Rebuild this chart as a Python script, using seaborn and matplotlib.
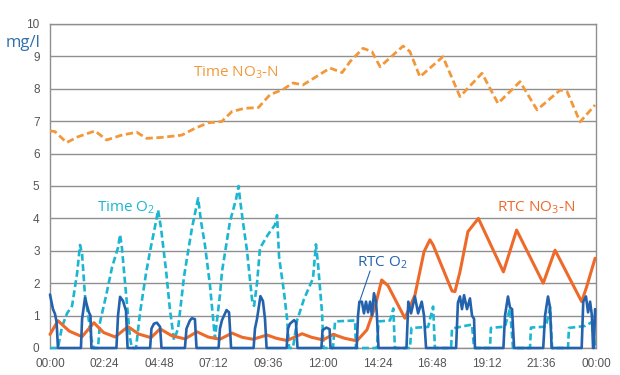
import matplotlib
matplotlib.use("Agg")
import numpy as np
import pandas as pd
import seaborn as sns
import matplotlib.pyplot as plt

# ---------------- data (time in hours, values in mg/l) ----------------
time_no3_t = [0.00, 0.22, 0.73, 1.23, 1.98, 2.49, 3.15, 3.81, 4.25, 4.91, 5.79, 6.37, 6.95, 7.55,
              8.00, 8.57, 9.16, 9.67, 10.24, 10.68, 11.12, 12.31, 12.84, 13.19, 13.76, 14.15,
              14.51, 15.52, 15.82, 16.26, 17.27, 18.02, 18.99, 19.69, 20.66, 21.41, 22.42, 22.73,
              23.30, 23.96]
time_no3_v = [6.70, 6.68, 6.34, 6.52, 6.70, 6.42, 6.57, 6.66, 6.47, 6.50, 6.57, 6.78, 6.95, 6.99,
              7.30, 7.40, 7.42, 7.82, 7.98, 8.18, 8.12, 8.64, 8.50, 8.84, 9.25, 9.15,
              8.68, 9.32, 9.15, 8.37, 8.99, 7.76, 8.48, 7.55, 8.22, 7.35, 7.96, 7.91,
              6.98, 7.50]

rtc_no3_t = [0.00, 0.35, 0.85, 1.41, 1.93, 2.35, 2.86, 3.43, 3.90, 4.44, 4.84, 5.35, 5.93, 6.46,
             6.95, 7.47, 8.00, 8.45, 8.92, 9.54, 9.95, 10.42, 11.08, 11.50, 12.00, 12.45, 12.95,
             13.49, 13.93, 14.29, 14.58, 14.86, 15.60, 16.04, 16.44, 16.70, 16.84, 17.67, 17.80,
             18.02, 18.37, 18.83, 19.93, 20.51, 21.68, 22.20, 23.37, 23.59, 23.96]
rtc_no3_v = [0.42, 0.84, 0.52, 0.35, 0.78, 0.48, 0.34, 0.66, 0.43, 0.32, 0.59, 0.38, 0.28, 0.50,
             0.34, 0.27, 0.46, 0.33, 0.27, 0.40, 0.30, 0.23, 0.44, 0.33, 0.25, 0.42, 0.30,
             0.22, 0.56, 1.28, 2.10, 1.92, 0.92, 1.63, 2.97, 3.34, 3.18, 1.76, 1.74,
             2.35, 3.59, 4.00, 2.35, 3.64, 2.00, 3.02, 1.43, 1.89, 2.77]

time_o2_t = [0.00, 0.35, 0.53, 0.75, 0.97, 1.19, 1.32, 1.41, 1.54, 1.67, 1.82, 1.93, 2.11, 2.20,
             2.46, 2.73, 2.99, 3.08, 3.16, 3.30, 3.52, 3.60, 3.78, 3.96, 4.22, 4.40, 4.66, 4.75,
             4.88, 5.10, 5.27, 5.45, 5.63, 5.89, 6.07, 6.24, 6.51, 6.64, 6.81, 7.03, 7.25, 7.47,
             7.56, 7.91, 8.18, 8.29, 8.35, 8.48, 8.66, 8.88, 8.97, 9.10, 9.23, 9.58, 9.89, 9.98,
             10.07, 10.29, 10.42, 10.51, 10.68, 10.86, 11.16, 11.56, 11.69, 11.78, 11.96, 12.02,
             12.44, 12.53, 13.41, 13.45, 14.37, 14.44, 14.95, 15.09, 15.16, 15.82, 15.89, 16.62,
             16.84, 16.92, 17.63, 17.67, 18.37, 18.55, 18.64, 19.34, 19.38, 20.00, 20.22, 20.35,
             21.10, 21.14, 21.80, 21.98, 22.07, 22.77, 22.81, 23.52, 23.82, 23.96, 24.00]
time_o2_v = [0.00, 0.00, 0.66, 1.07, 1.30, 2.30, 3.18, 2.90, 1.60, 1.05, 0.26, 0.00, 0.00, 0.80,
             1.60, 2.50, 3.10, 3.50, 3.10, 2.00, 0.30, 0.00, 0.00, 1.10, 2.30, 3.00, 3.90, 4.26,
             3.70, 2.40, 1.20, 0.25, 0.60, 2.20, 2.98, 3.70, 4.62, 3.90, 3.18, 1.95, 0.30, 1.64,
             2.36, 3.90, 4.60, 5.00, 4.60, 3.90, 3.00, 1.50, 1.30, 2.00, 3.08, 3.50, 3.80, 4.10,
             2.80, 1.70, 0.90, 0.00, 0.00, 0.85, 1.50, 2.15, 3.20, 2.60, 1.07, 0.00,
             0.00, 0.82, 0.85, 0.00, 0.00, 0.82, 0.85, 1.22, 0.00, 0.00, 0.62, 0.65,
             1.28, 0.00, 0.00, 0.60, 0.70, 0.72, 0.00, 0.00, 0.62, 0.66, 1.22, 0.00,
             0.00, 0.63, 0.66, 1.25, 0.00, 0.00, 0.62, 0.68, 0.80, 0.00, 0.00]

rtc_o2_t = [0.00, 0.13, 0.22, 0.29, 0.35, 1.36, 1.41, 1.54, 1.63, 1.71, 1.78, 1.82, 2.92, 2.99,
            3.08, 3.21, 3.34, 3.41, 4.40, 4.46, 4.57, 4.70, 4.84, 4.90, 5.93, 6.00, 6.15, 6.24,
            6.37, 6.44, 7.41, 7.47, 7.56, 7.76, 7.87, 7.96, 8.95, 9.01, 9.10, 9.25, 9.36, 9.45,
            9.52, 10.40, 10.46, 10.55, 10.73, 10.81, 10.88, 11.93, 11.98, 12.15, 12.29, 12.33,
            13.48, 13.54, 13.60, 13.71, 13.80, 13.89, 13.98, 14.07, 14.15, 14.24, 14.33, 14.37,
            14.44, 15.67, 15.75, 15.87, 16.04, 16.18, 16.34, 16.44, 16.53, 17.85, 17.93, 18.02,
            18.11, 18.20, 18.33, 18.46, 18.55, 18.64, 18.68, 19.93, 20.00, 20.13, 20.22, 20.31,
            20.40, 21.68, 21.76, 21.89, 21.98, 22.05, 23.37, 23.44, 23.56, 23.65, 23.74, 23.82,
            23.87, 23.91, 23.96]
rtc_o2_v = [1.65, 1.20, 1.05, 0.80, 0.00, 0.00, 0.90, 1.55, 1.30, 1.10, 1.00, 0.00, 0.00, 1.00,
            1.58, 1.45, 1.15, 0.00, 0.00, 0.60, 0.75, 0.78, 0.65, 0.00, 0.00, 0.60, 0.85, 0.92,
            0.89, 0.00, 0.00, 0.60, 0.86, 1.17, 1.10, 0.00, 0.00, 0.60, 0.90, 1.60, 1.45, 0.90,
            0.00, 0.00, 0.60, 0.75, 0.86, 0.80, 0.00, 0.00, 0.55, 0.63, 0.58, 0.00,
            0.00, 1.00, 1.43, 1.43, 1.07, 1.43, 1.10, 1.43, 1.00, 1.69, 1.43, 1.00,
            0.00, 0.00, 1.43, 1.07, 1.59, 1.07, 1.43, 1.00, 0.00, 0.00, 1.40, 1.59,
            1.20, 1.63, 1.20, 1.53, 1.00, 0.90, 0.00, 0.00, 1.00, 1.59, 1.25, 1.20,
            0.00, 0.00, 1.00, 1.59, 1.25, 0.00, 0.00, 1.43, 1.59, 1.10, 1.43, 1.00,
            0.00, 0.00, 1.20]

x_ticks = [0, 2.4, 4.8, 7.2, 9.6, 12.0, 14.4, 16.8, 19.2, 21.6, 24.0]
x_labels = ["00:00", "02:24", "04:48", "07:12", "09:36", "12:00", "14:24", "16:48",
            "19:12", "21:36", "00:00"]
y_ticks = list(range(0, 11))

# ---------------- style ----------------
sns.set_theme(style="white")
plt.rcParams["font.family"] = ["Liberation Sans", "DejaVu Sans"]
plt.rcParams["mathtext.fontset"] = "custom"
plt.rcParams["mathtext.rm"] = "Open Sans"
plt.rcParams["mathtext.it"] = "Open Sans"
plt.rcParams["mathtext.bf"] = "Open Sans"

c_time_no3 = "#f3983a"
c_rtc_no3 = "#ee6a2a"
c_time_o2 = "#1cb6d2"
c_rtc_o2 = "#2462ae"
c_grid = "#8f8f8f"
c_tick = "#555555"

fig = plt.figure(figsize=(6.2, 3.75), dpi=100)
ax = fig.add_axes([50 / 620, 27 / 375, 546 / 620, 324 / 375])

def draw(t, v, color, lw, dashed=False, z=3):
    df = pd.DataFrame({"t": t, "v": v})
    sns.lineplot(data=df, x="t", y="v", ax=ax, color=color, sort=False,
                 estimator=None, linewidth=lw, zorder=z)
    line = ax.get_lines()[-1]
    if dashed:
        line.set_dashes([2.6, 1.3])
    line.set_clip_on(False)
    line.set_solid_joinstyle("round")
    line.set_dash_joinstyle("round")

draw(time_no3_t, time_no3_v, c_time_no3, 2.0, dashed=True, z=3)
draw(time_o2_t, time_o2_v, c_time_o2, 1.9, dashed=True, z=3)
draw(rtc_no3_t, rtc_no3_v, c_rtc_no3, 2.2, z=4)
draw(rtc_o2_t, rtc_o2_v, c_rtc_o2, 1.9, z=5)

ax.set_xlim(0, 24)
ax.set_ylim(0, 10)
ax.set_xticks(x_ticks)
ax.set_xticklabels(x_labels)
ax.set_yticks(y_ticks)
ax.set_xlabel("")
ax.set_ylabel("")
ax.yaxis.grid(True, color=c_grid, linewidth=1.0, zorder=0)
ax.xaxis.grid(False)
ax.set_axisbelow(True)
for s in ["left", "bottom", "right", "top"]:
    ax.spines[s].set_visible(True)
    ax.spines[s].set_color(c_grid)
    ax.spines[s].set_linewidth(1.0)
ax.tick_params(axis="both", colors=c_tick, labelsize=8.5, length=3.5, width=0.8,
               direction="out", pad=3)
ax.tick_params(axis="y", pad=4)
ax.tick_params(axis="x", pad=4)
for lab in ax.get_xticklabels() + ax.get_yticklabels():
    lab.set_color(c_tick)

fig.text(6 / 620, 1 - 43 / 375, "mg/l", color="#2f6fb0", fontsize=12,
         family="Open Sans", va="center", ha="left")

ax.text(6.29, 8.49, r"Time NO$_3$-N", color=c_time_no3, fontsize=11,
        family="Open Sans", va="center", ha="left")
ax.text(2.07, 4.32, r"Time O$_2$", color=c_time_o2, fontsize=11,
        family="Open Sans", va="center", ha="left")
ax.text(13.5, 2.62, r"RTC O$_2$", color=c_rtc_o2, fontsize=11,
        family="Open Sans", va="center", ha="left")
ax.text(19.65, 4.32, r"RTC NO$_3$-N", color=c_rtc_no3, fontsize=11,
        family="Open Sans", va="center", ha="left")
ax.plot([14.07, 13.63], [2.38, 1.48], color=c_rtc_o2, linewidth=0.8, zorder=6)

fig.savefig("out.png", dpi=100)
